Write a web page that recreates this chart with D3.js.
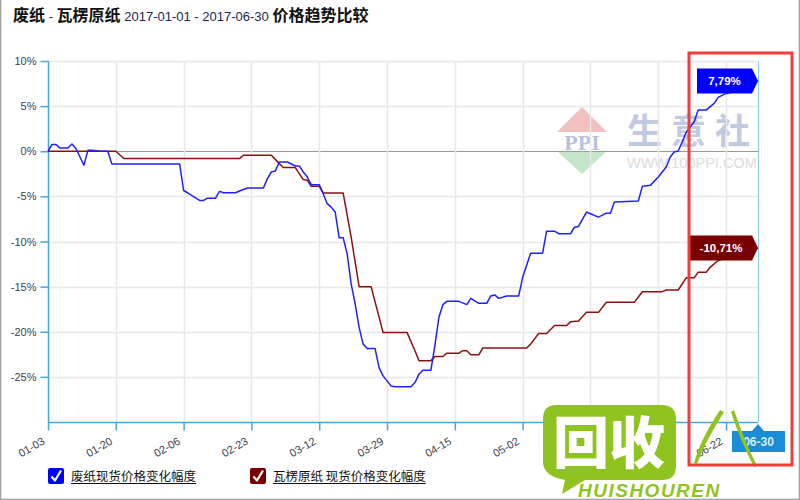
<!DOCTYPE html>
<html><head><meta charset="utf-8">
<script src="https://cdn.jsdelivr.net/npm/d3@7"></script>
<style>body{margin:0;background:#fff}svg{display:block}</style>
</head><body><svg id="c" width="800" height="500"></svg>
<script>
const titleParts = ["废纸", " - ", "瓦楞原纸 ", "2017-01-01 - 2017-06-30", " 价格趋势比较"];
const seriesNames = ["废纸现货价格变化幅度", "瓦楞原纸 现货价格变化幅度"];
const xTickLabels = ["01-03","01-20","02-06","02-23","03-12","03-29","04-15","05-02","05-19","06-05","06-22"];
const yTicks = [10, 5, 0, -5, -10, -15, -20, -25];
const endDateLabel = "06-30";

const wasteDates = ["01-03","01-04","01-05","01-06","01-08","01-09","01-10","01-12","01-13","01-14","01-16","01-18","01-19",
 "02-05","02-06","02-07","02-08","02-10","02-11","02-12","02-14","02-15","02-16","02-19","02-20","02-22","02-26","02-27","02-28",
 "03-01","03-02","03-04","03-06","03-07","03-08","03-09","03-10","03-12","03-13","03-14","03-15","03-16","03-17","03-18","03-19",
 "03-20","03-21","03-22","03-23","03-24","03-26","03-27","03-28","03-30","03-31",
 "04-04","04-05","04-06","04-07","04-09","04-10","04-11","04-12","04-13","04-16","04-18","04-19","04-21","04-23","04-24","04-25","04-26","04-28",
 "05-01","05-02","05-04","05-07","05-08","05-10","05-11","05-14","05-15","05-16","05-18","05-19","05-21","05-23","05-24","05-25","05-31",
 "06-01","06-03","06-05","06-07","06-08","06-09","06-10","06-11","06-12","06-14","06-15","06-17","06-19","06-20","06-22","06-24","06-27","06-30"];
const wasteValues = [0,0.75,0.75,0.35,0.35,0.8,0.3,-1.55,0.1,0.1,0,0,-1.4,
 -1.4,-4.35,-4.6,-4.9,-5.45,-5.45,-5.2,-5.2,-4.45,-4.6,-4.6,-4.4,-4.08,-4.08,-3.03,-2.3,
 -2.18,-1.19,-1.19,-1.63,-1.63,-2.3,-2.86,-3.7,-3.7,-4.7,-5.81,-6.19,-6.74,-9.59,-9.59,-11.37,
 -14.7,-16.92,-19.52,-21.37,-21.86,-21.86,-23.97,-24.89,-26.0,-26.1,
 -26.1,-25.63,-24.7,-24.26,-24.26,-21.5,-18.4,-17.0,-16.63,-16.63,-17.0,-16.3,-16.85,-16.85,-16.03,-15.92,-16.3,-16.03,
 -16.03,-13.97,-11.3,-11.3,-8.86,-8.86,-9.14,-9.14,-8.41,-8.33,-6.74,-6.92,-7.3,-6.86,-6.86,-5.63,-5.52,
 -3.89,-3.78,-2.86,-1.74,-0.63,-0.08,0.03,1.03,2.1,3.26,4.56,4.56,5.3,5.97,6.41,6.6,7.2,7.79];

const boardDates = ["01-03","01-20","01-22","02-20","02-21","02-28","03-02","03-03","03-06","03-08","03-09","03-10","03-12","03-13",
 "03-18","03-20","03-22","03-25","03-28","04-03","04-05","04-06","04-09","04-10","04-12","04-13","04-16","04-17","04-18","04-19",
 "04-21","04-22","05-03","05-04","05-06","05-08","05-10","05-13","05-14","05-16","05-18","05-21","05-23","05-30","06-01","06-06",
 "06-07","06-10","06-12","06-14","06-15","06-17","06-18","06-20","06-24","06-27","06-30"];
const boardValues = [0,0,-0.81,-0.81,-0.44,-0.44,-1.37,-1.81,-1.81,-3.14,-3.22,-3.89,-3.89,-4.63,
 -4.63,-9.52,-15.0,-15.0,-20.07,-20.07,-22.1,-23.2,-23.2,-22.74,-22.74,-22.37,-22.37,-22.1,-22.1,-22.55,
 -22.55,-21.8,-21.8,-21.37,-20.19,-20.19,-19.3,-19.3,-18.9,-18.81,-17.85,-17.85,-16.74,-16.74,-15.56,-15.56,
 -15.37,-15.37,-14.03,-14.03,-13.4,-13.4,-12.86,-12.1,-11.6,-11.2,-10.71];

const seriesColors = ["#2020ff", "#8b1111"];
const labelColors = ["#0000ff", "#7a0000"];

const svg = d3.select("#c");
const parse = s => d3.timeParse("%Y-%m-%d")("2017-" + s);
const x = d3.scaleTime().domain([parse("01-03"), parse("06-30")]).range([48, 758]);
const y = d3.scaleLinear().domain([-30, 10]).range([422, 61]);
const FONT = "Arial, 'Liberation Sans', 'Noto Sans CJK SC', sans-serif";
const CJK = "'Noto Sans CJK SC', 'Microsoft YaHei', sans-serif";

// outer border
svg.append("path").attr("d", "M0.5,0 V499.5 H799.5 V0").attr("fill", "none").attr("stroke", "#a0a0a0").attr("stroke-width", 1.5);

// title
const title = svg.append("text").attr("x", 13).attr("y", 21).attr("font-family", CJK).attr("font-size", 16).attr("font-weight", "bold").attr("fill", "#111");
title.append("tspan").text(titleParts[0]);
title.append("tspan").attr("font-family", FONT).attr("font-weight", "normal").attr("font-size", 13).attr("fill", "#1b2550").text(titleParts[1]);
title.append("tspan").text(titleParts[2]);
title.append("tspan").attr("font-family", FONT).attr("font-weight", "normal").attr("font-size", 13).attr("fill", "#1b2550").text(titleParts[3]);
title.append("tspan").text(titleParts[4]);

// watermark PPI / 生意社
const wm = svg.append("g");
wm.append("path").attr("d", "M557,132 L582,107 L607,132 Z").attr("fill", "#f3c0c0");
wm.append("path").attr("d", "M557,151 L607,151 L582,174 Z").attr("fill", "#c5e6c8");
wm.append("text").attr("x", 582).attr("y", 150).attr("text-anchor", "middle").attr("font-family", "'Liberation Serif', serif").attr("font-weight", "bold").attr("font-size", 22).attr("fill", "#b8c2dc").text("PPI");
wm.append("text").attr("x", 627).attr("y", 144).attr("font-family", CJK).attr("font-weight", "bold").attr("font-size", 35).attr("fill", "#c0cae0").attr("letter-spacing", 9).text("生意社");
wm.append("text").attr("x", 627).attr("y", 168).attr("font-family", FONT).attr("font-size", 14.5).attr("fill", "#dcdcdc").text("WWW.100PPI.COM");

// grid
const tickDates = xTickLabels.map(parse);
svg.append("g").selectAll("line").data(yTicks).join("line")
  .attr("x1", 48).attr("x2", 758).attr("y1", d => Math.round(y(d)) + 0.5).attr("y2", d => Math.round(y(d)) + 0.5)
  .attr("stroke", d => d === 0 ? "#9a9a9a" : "#e8e8e8").attr("stroke-width", d => d === 0 ? 1.2 : 1.5);
svg.append("g").selectAll("line").data(tickDates.slice(1)).join("line")
  .attr("x1", d => Math.round(x(d)) + 0.5).attr("x2", d => Math.round(x(d)) + 0.5).attr("y1", 61).attr("y2", 422)
  .attr("stroke", "#e8e8e8").attr("stroke-width", 1.5);
// crosshair
svg.append("line").attr("x1", 758.5).attr("x2", 758.5).attr("y1", 61).attr("y2", 422).attr("stroke", "#8ccbee").attr("stroke-width", 1);

// axes
const axisColor = "#4aa3df";
const yAxis = svg.append("g").attr("transform", "translate(48.5,0)")
  .call(d3.axisLeft(y).tickValues(yTicks).tickSize(8).tickFormat(d => d + "%"));
yAxis.select(".domain").attr("d", "M0,61V422").attr("stroke", axisColor).attr("stroke-width", 1.5);
yAxis.selectAll(".tick line").attr("stroke", axisColor).attr("stroke-width", 1.5);
yAxis.selectAll(".tick text").attr("x", -12).attr("font-family", FONT).attr("font-size", 11).attr("fill", "#403c50");

const xAxis = svg.append("g").attr("transform", "translate(0,422.5)")
  .call(d3.axisBottom(x).tickValues(tickDates).tickSize(8).tickFormat(d3.timeFormat("%m-%d")));
xAxis.select(".domain").attr("d", "M48,0H758").attr("stroke", axisColor).attr("stroke-width", 1.5);
xAxis.selectAll(".tick line").attr("stroke", axisColor).attr("stroke-width", 1.5);
xAxis.selectAll(".tick text").attr("font-family", FONT).attr("font-size", 11).attr("fill", "#403c50")
  .attr("text-anchor", "end").attr("dy", null).attr("y", null)
  .attr("transform", "translate(-3,21) rotate(-30)");

// lines
const line = d3.line().x(d => x(d[0])).y(d => y(d[1]));
const series = [
  wasteDates.map((d, i) => [parse(d), wasteValues[i]]),
  boardDates.map((d, i) => [parse(d), boardValues[i]])
];
svg.append("path").datum(series[1]).attr("d", line).attr("fill", "none").attr("stroke", seriesColors[1]).attr("stroke-width", 1.5).attr("stroke-linejoin", "round");
svg.append("path").datum(series[0]).attr("d", line).attr("fill", "none").attr("stroke", seriesColors[0]).attr("stroke-width", 1.5).attr("stroke-linejoin", "round");

// end labels
const fmt = v => d3.format(".2f")(v).replace(".", ",").replace("−", "-") + "%";
const lastVals = [wasteValues[wasteValues.length - 1], boardValues[boardValues.length - 1]];
lastVals.forEach((v, i) => {
  const tx = x(parse("06-30")), ty = y(v);
  const w = i === 0 ? 55 : 62, h = 25;
  const x1 = tx - 6, x0 = x1 - w;
  svg.append("path").attr("d", `M${x0},${ty - h/2}H${x1}L${tx},${ty}L${x1},${ty + h/2}H${x0}Z`).attr("fill", labelColors[i]);
  svg.append("text").attr("x", (x0 + x1) / 2).attr("y", ty + 4.5).attr("text-anchor", "middle").attr("font-family", FONT)
    .attr("font-size", 11.5).attr("font-weight", "bold").attr("fill", "#fff").text(fmt(v));
});

// end date tag
{
  const tx = x(parse("06-30"));
  svg.append("path").attr("d", `M732,431H${tx - 6}L${tx},424L${tx + 6},431H785V452H732Z`).attr("fill", "#1a8dd6");
  svg.append("text").attr("x", 758.5).attr("y", 446).attr("text-anchor", "middle").attr("font-family", FONT).attr("font-size", 12)
    .attr("font-weight", "bold").attr("fill", "#d8eefa").text(endDateLabel);
}

// legend
const legX = [48, 250];
seriesNames.forEach((name, i) => {
  const g = svg.append("g").attr("transform", `translate(${legX[i]},468)`);
  g.append("rect").attr("width", 16).attr("height", 16).attr("rx", 2).attr("fill", labelColors[i]);
  g.append("path").attr("d", "M3.5,8.5 L7,12.5 L13,2.5").attr("fill", "none").attr("stroke", "#fff").attr("stroke-width", 2.2).attr("stroke-linejoin", "round");
  const t = g.append("text").attr("x", 23).attr("y", 13).attr("font-family", CJK).attr("font-size", 12.5).attr("fill", "#111").text(name);
  const len = t.node().getComputedTextLength();
  g.append("line").attr("x1", 23).attr("x2", 23 + len).attr("y1", 15.5).attr("y2", 15.5).attr("stroke", "#111").attr("stroke-width", 1);
});

// green logo watermark
const lg = svg.append("g");
lg.append("path").attr("d", "M556,405 H662 Q676,405 676,419 V466 Q676,480 662,480 H585 L562,494 L565,480 Q543,476 543,462 V419 Q543,405 556,405 Z").attr("fill", "#8fc31f");
lg.append("text").attr("x", 609).attr("y", 463).attr("text-anchor", "middle").attr("font-family", CJK).attr("font-weight", "900").attr("font-size", 56).attr("fill", "#fff").text("回收");
lg.append("text").attr("x", 578).attr("y", 497).attr("font-family", FONT).attr("font-weight", "bold").attr("font-style", "italic").attr("font-size", 19).attr("letter-spacing", 1.5).attr("fill", "#8fc31f").text("HUISHOUREN");
lg.append("path").attr("d", "M694,463 Q700,440 720,410 L724,412 Q706,440 697,464 Z").attr("fill", "#8fc31f");
lg.append("path").attr("d", "M734,410 Q744,440 757,466 L754,467 Q740,440 731,412 Z").attr("fill", "#8fc31f");

// red highlight box
svg.append("rect").attr("x", 689).attr("y", 53).attr("width", 103).attr("height", 412).attr("fill", "none").attr("stroke", "#f23c3c").attr("stroke-width", 3);
</script></body></html>
